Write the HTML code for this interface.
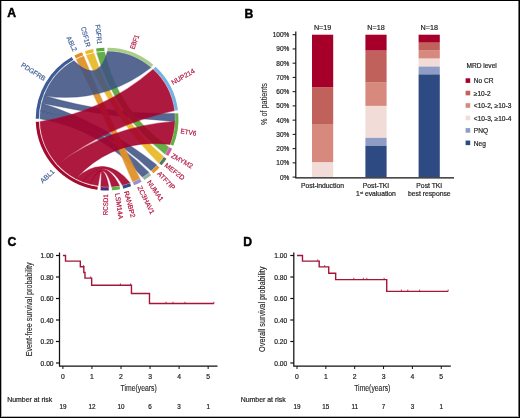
<!DOCTYPE html>
<html><head><meta charset="utf-8"><style>
html,body{margin:0;padding:0;background:#fff;}
body{width:520px;height:418px;overflow:hidden;}
svg{display:block;font-family:"Liberation Sans", sans-serif;will-change:transform;}
.frame{position:absolute;left:0;top:0;width:520px;height:418px;box-sizing:border-box;border:1px solid #000;}
.frame2{position:absolute;left:1px;top:1px;width:518px;height:416px;box-sizing:border-box;border-style:solid;border-width:0 1px 1px 1px;border-color:transparent rgba(0,0,0,.55) rgba(0,0,0,.3) rgba(0,0,0,.3);}
</style></head><body>
<svg width="520" height="418" viewBox="0 0 520 418">
<path d="M40.05,118.73 A67.05,67.05 0 0 1 40.55,110.95 Q103.37,125.88 148.81,172.43 A67.70,67.70 0 0 1 142.33,176.91 Q101.48,129.25 40.05,118.73 Z" fill="#3f5383" stroke="#3f5383" stroke-width="1.2" fill-opacity="0.88" stroke-opacity="0.44"/>
<path d="M40.55,110.95 A67.05,67.05 0 0 1 41.94,103.28 Q104.78,123.63 156.77,165.10 A67.70,67.70 0 0 1 151.09,170.56 Q103.72,125.60 40.55,110.95 Z" fill="#3f5383" stroke="#3f5383" stroke-width="1.2" fill-opacity="0.88" stroke-opacity="0.44"/>
<path d="M41.94,103.28 A67.05,67.05 0 0 1 44.22,95.82 Q107.79,114.78 174.57,113.56 A67.70,67.70 0 0 1 174.76,121.43 Q107.48,117.08 41.94,103.28 Z" fill="#3f5383" stroke="#3f5383" stroke-width="1.2" fill-opacity="0.88" stroke-opacity="0.44"/>
<path d="M76.47,59.46 A67.05,67.05 0 0 1 83.60,56.30 Q108.48,118.57 139.78,178.39 A67.70,67.70 0 0 1 132.67,181.78 Q106.34,119.56 76.47,59.46 Z" fill="#e0912a" stroke="#e0912a" stroke-width="1.2" fill-opacity="0.95" stroke-opacity="0.475"/>
<path d="M86.36,55.34 A67.05,67.05 0 0 1 93.90,53.36 Q113.58,114.86 163.46,156.60 A67.70,67.70 0 0 1 158.73,162.89 Q111.73,116.10 86.36,55.34 Z" fill="#e9b92c" stroke="#e9b92c" stroke-width="1.2" fill-opacity="0.95" stroke-opacity="0.475"/>
<path d="M96.78,52.85 A67.05,67.05 0 0 1 104.54,52.10 Q118.13,111.83 168.72,147.14 A67.70,67.70 0 0 1 165.05,154.11 Q114.72,114.10 96.78,52.85 Z" fill="#5da93e" stroke="#5da93e" stroke-width="1.2" fill-opacity="0.95" stroke-opacity="0.475"/>
<path d="M44.22,95.82 A67.05,67.05 0 0 1 73.89,60.85 Q98.15,84.78 107.45,51.40 A67.70,67.70 0 0 1 150.89,67.47 Q103.28,104.12 44.22,95.82 Z" fill="#3f5383" stroke="#3f5383" stroke-width="1.2" fill-opacity="0.88" stroke-opacity="0.44"/>
<path d="M97.99,185.53 A67.05,67.05 0 0 1 90.34,184.02 Q102.85,156.31 108.71,186.78 A67.70,67.70 0 0 1 100.84,186.51 Q102.76,156.93 97.99,185.53 Z" fill="#a5002b" stroke="#a5002b" stroke-width="1.2" fill-opacity="0.9" stroke-opacity="0.45"/>
<path d="M90.34,184.02 A67.05,67.05 0 0 1 82.92,181.64 Q103.88,154.31 119.47,185.66 A67.70,67.70 0 0 1 111.66,186.65 Q103.68,156.22 90.34,184.02 Z" fill="#a5002b" stroke="#a5002b" stroke-width="1.2" fill-opacity="0.9" stroke-opacity="0.45"/>
<path d="M82.92,181.64 A67.05,67.05 0 0 1 75.82,178.41 Q104.80,152.58 129.91,182.84 A67.70,67.70 0 0 1 122.36,185.06 Q104.66,154.20 82.92,181.64 Z" fill="#a5002b" stroke="#a5002b" stroke-width="1.2" fill-opacity="0.9" stroke-opacity="0.45"/>
<path d="M75.82,178.41 A67.05,67.05 0 0 1 57.42,164.13 Q109.80,126.20 174.76,121.43 A67.70,67.70 0 0 1 169.88,144.43 Q113.92,137.41 75.82,178.41 Z" fill="#a5002b" stroke="#a5002b" stroke-width="1.2" fill-opacity="0.9" stroke-opacity="0.45"/>
<path d="M57.42,164.13 A67.05,67.05 0 0 1 40.10,121.66 Q103.95,112.03 153.10,69.43 A67.70,67.70 0 0 1 174.27,110.62 Q109.72,124.58 57.42,164.13 Z" fill="#a5002b" stroke="#a5002b" stroke-width="1.2" fill-opacity="0.9" stroke-opacity="0.45"/>
<path d="M107.47,47.70 A71.40,71.40 0 0 1 153.28,64.65 L151.21,67.09 A68.20,68.20 0 0 0 107.46,50.90 Z" fill="#a8cd84"/>
<path d="M155.61,66.71 A71.40,71.40 0 0 1 177.94,110.16 L174.76,110.56 A68.20,68.20 0 0 0 153.44,69.06 Z" fill="#76b1e3"/>
<path d="M178.26,113.25 A71.40,71.40 0 0 1 173.31,145.81 L170.35,144.62 A68.20,68.20 0 0 0 175.07,113.52 Z" fill="#66ad45"/>
<path d="M172.09,148.68 A71.40,71.40 0 0 1 168.21,156.02 L165.47,154.37 A68.20,68.20 0 0 0 169.17,147.35 Z" fill="#d95aa7"/>
<path d="M166.54,158.65 A71.40,71.40 0 0 1 161.55,165.29 L159.11,163.22 A68.20,68.20 0 0 0 163.88,156.88 Z" fill="#4f7a66"/>
<path d="M159.48,167.62 A71.40,71.40 0 0 1 153.50,173.37 L151.42,170.94 A68.20,68.20 0 0 0 157.14,165.44 Z" fill="#e6931f"/>
<path d="M151.08,175.34 A71.40,71.40 0 0 1 144.26,180.07 L142.59,177.34 A68.20,68.20 0 0 0 149.11,172.82 Z" fill="#94b39a"/>
<path d="M141.56,181.63 A71.40,71.40 0 0 1 134.07,185.21 L132.86,182.25 A68.20,68.20 0 0 0 140.02,178.83 Z" fill="#9a8fd6"/>
<path d="M131.16,186.32 A71.40,71.40 0 0 1 123.19,188.66 L122.47,185.55 A68.20,68.20 0 0 0 130.08,183.31 Z" fill="#2c4f8f"/>
<path d="M120.14,189.30 A71.40,71.40 0 0 1 111.91,190.34 L111.69,187.15 A68.20,68.20 0 0 0 119.56,186.15 Z" fill="#5fb446"/>
<path d="M108.79,190.48 A71.40,71.40 0 0 1 100.49,190.19 L100.79,187.01 A68.20,68.20 0 0 0 108.72,187.28 Z" fill="#4a2c72"/>
<path d="M97.40,189.84 A71.40,71.40 0 0 1 35.75,121.83 L38.95,121.70 A68.20,68.20 0 0 0 97.83,186.67 Z" fill="#a50b2f"/>
<path d="M35.70,118.71 A71.40,71.40 0 0 1 71.74,57.07 L73.33,59.85 A68.20,68.20 0 0 0 38.90,118.73 Z" fill="#3d5b94"/>
<path d="M74.48,55.59 A71.40,71.40 0 0 1 82.07,52.23 L83.20,55.23 A68.20,68.20 0 0 0 75.94,58.43 Z" fill="#e28e22"/>
<path d="M85.01,51.20 A71.40,71.40 0 0 1 93.05,49.10 L93.68,52.23 A68.20,68.20 0 0 0 86.00,54.24 Z" fill="#edb825"/>
<path d="M96.11,48.55 A71.40,71.40 0 0 1 104.38,47.75 L104.50,50.95 A68.20,68.20 0 0 0 96.61,51.71 Z" fill="#5ea83a"/>
<text x="131.94" y="48.97" transform="rotate(-70.50 131.94 48.97)" text-anchor="start" dominant-baseline="central" fill="#b0123c" stroke="#b0123c" stroke-width="0.18" font-size="6.8" textLength="14.90" lengthAdjust="spacingAndGlyphs">EBF1</text>
<text x="171.72" y="82.84" transform="rotate(-29.30 171.72 82.84)" text-anchor="start" dominant-baseline="central" fill="#b0123c" stroke="#b0123c" stroke-width="0.18" font-size="6.8" textLength="25.70" lengthAdjust="spacingAndGlyphs">NUP214</text>
<text x="180.68" y="130.75" transform="rotate(9.00 180.68 130.75)" text-anchor="start" dominant-baseline="central" fill="#b0123c" stroke="#b0123c" stroke-width="0.18" font-size="6.8" textLength="15.80" lengthAdjust="spacingAndGlyphs">ETV6</text>
<text x="171.65" y="154.88" transform="rotate(29.00 171.65 154.88)" text-anchor="start" dominant-baseline="central" fill="#b0123c" stroke="#b0123c" stroke-width="0.18" font-size="6.8">ZMYM2</text>
<text x="165.65" y="164.35" transform="rotate(37.70 165.65 164.35)" text-anchor="start" dominant-baseline="central" fill="#b0123c" stroke="#b0123c" stroke-width="0.18" font-size="6.8">MEF2D</text>
<text x="158.50" y="172.33" transform="rotate(46.00 158.50 172.33)" text-anchor="start" dominant-baseline="central" fill="#b0123c" stroke="#b0123c" stroke-width="0.18" font-size="6.8">ATF7IP</text>
<text x="148.87" y="180.79" transform="rotate(55.90 148.87 180.79)" text-anchor="start" dominant-baseline="central" fill="#b0123c" stroke="#b0123c" stroke-width="0.18" font-size="6.8">NUMA1</text>
<text x="139.52" y="186.17" transform="rotate(64.20 139.52 186.17)" text-anchor="start" dominant-baseline="central" fill="#b0123c" stroke="#b0123c" stroke-width="0.18" font-size="6.8" textLength="30.50" lengthAdjust="spacingAndGlyphs">ZC3HAV1</text>
<text x="126.38" y="191.06" transform="rotate(75.00 126.38 191.06)" text-anchor="start" dominant-baseline="central" fill="#b0123c" stroke="#b0123c" stroke-width="0.18" font-size="6.8">RANBP2</text>
<text x="117.52" y="193.27" transform="rotate(82.00 117.52 193.27)" text-anchor="start" dominant-baseline="central" fill="#b0123c" stroke="#b0123c" stroke-width="0.18" font-size="6.8" textLength="26.00" lengthAdjust="spacingAndGlyphs">LSM14A</text>
<text x="105.66" y="194.29" transform="rotate(271.10 105.66 194.29)" text-anchor="end" dominant-baseline="central" fill="#b0123c" stroke="#b0123c" stroke-width="0.18" font-size="6.8" textLength="20.80" lengthAdjust="spacingAndGlyphs">RCSD1</text>
<text x="53.20" y="170.24" transform="rotate(316.50 53.20 170.24)" text-anchor="end" dominant-baseline="central" fill="#3f5e96" stroke="#3f5e96" stroke-width="0.18" font-size="6.8">ABL1</text>
<text x="44.98" y="79.07" transform="rotate(392.80 44.98 79.07)" text-anchor="end" dominant-baseline="central" fill="#3f5e96" stroke="#3f5e96" stroke-width="0.18" font-size="6.8" textLength="27.50" lengthAdjust="spacingAndGlyphs">PDGFRB</text>
<text x="75.40" y="51.13" transform="rotate(425.00 75.40 51.13)" text-anchor="end" dominant-baseline="central" fill="#3f5e96" stroke="#3f5e96" stroke-width="0.18" font-size="6.8" textLength="16.00" lengthAdjust="spacingAndGlyphs">ABL2</text>
<text x="88.52" y="46.75" transform="rotate(435.60 88.52 46.75)" text-anchor="end" dominant-baseline="central" fill="#3f5e96" stroke="#3f5e96" stroke-width="0.18" font-size="6.8" textLength="20.60" lengthAdjust="spacingAndGlyphs">CSF1R</text>
<text x="99.75" y="44.16" transform="rotate(444.40 99.75 44.16)" text-anchor="end" dominant-baseline="central" fill="#3f5e96" stroke="#3f5e96" stroke-width="0.18" font-size="6.8" textLength="19.70" lengthAdjust="spacingAndGlyphs">FGFR1</text>
<rect x="312.00" y="162.11" width="21.20" height="14.99" fill="#f1dcd7"/>
<rect x="312.00" y="124.64" width="21.20" height="37.47" fill="#d6897c"/>
<rect x="312.00" y="87.16" width="21.20" height="37.47" fill="#c0615b"/>
<rect x="312.00" y="34.70" width="21.20" height="52.46" fill="#a6002a"/>
<text stroke="#1e1e1e" stroke-width="0.2" x="322.60" y="29.9" text-anchor="middle" font-size="7.2" fill="#1e1e1e">N=19</text>
<rect x="365.40" y="145.46" width="21.20" height="31.64" fill="#2e4a82"/>
<rect x="365.40" y="137.54" width="21.20" height="7.91" fill="#8f9cc6"/>
<rect x="365.40" y="105.90" width="21.20" height="31.64" fill="#f1dcd7"/>
<rect x="365.40" y="82.17" width="21.20" height="23.73" fill="#d6897c"/>
<rect x="365.40" y="50.52" width="21.20" height="31.64" fill="#c0615b"/>
<rect x="365.40" y="34.70" width="21.20" height="15.82" fill="#a6002a"/>
<text stroke="#1e1e1e" stroke-width="0.2" x="376.00" y="29.9" text-anchor="middle" font-size="7.2" fill="#1e1e1e">N=18</text>
<rect x="418.60" y="74.26" width="21.20" height="102.84" fill="#2e4a82"/>
<rect x="418.60" y="66.34" width="21.20" height="7.91" fill="#8f9cc6"/>
<rect x="418.60" y="58.43" width="21.20" height="7.91" fill="#f1dcd7"/>
<rect x="418.60" y="50.52" width="21.20" height="7.91" fill="#d6897c"/>
<rect x="418.60" y="42.61" width="21.20" height="7.91" fill="#c0615b"/>
<rect x="418.60" y="34.70" width="21.20" height="7.91" fill="#a6002a"/>
<text stroke="#1e1e1e" stroke-width="0.2" x="429.20" y="29.9" text-anchor="middle" font-size="7.2" fill="#1e1e1e">N=18</text>
<path d="M295.8,31.6 V177.9 H454" stroke="#111" stroke-width="1.2" fill="none"/>
<path d="M292.6,177.10 H295.8" stroke="#111" stroke-width="1"/>
<text stroke="#1e1e1e" stroke-width="0.2" x="289.3" y="177.10" text-anchor="end" font-size="6.5" fill="#1e1e1e" dominant-baseline="central">0%</text>
<path d="M292.6,162.86 H295.8" stroke="#111" stroke-width="1"/>
<text stroke="#1e1e1e" stroke-width="0.2" x="289.3" y="162.86" text-anchor="end" font-size="6.5" fill="#1e1e1e" dominant-baseline="central">10%</text>
<path d="M292.6,148.62 H295.8" stroke="#111" stroke-width="1"/>
<text stroke="#1e1e1e" stroke-width="0.2" x="289.3" y="148.62" text-anchor="end" font-size="6.5" fill="#1e1e1e" dominant-baseline="central">20%</text>
<path d="M292.6,134.38 H295.8" stroke="#111" stroke-width="1"/>
<text stroke="#1e1e1e" stroke-width="0.2" x="289.3" y="134.38" text-anchor="end" font-size="6.5" fill="#1e1e1e" dominant-baseline="central">30%</text>
<path d="M292.6,120.14 H295.8" stroke="#111" stroke-width="1"/>
<text stroke="#1e1e1e" stroke-width="0.2" x="289.3" y="120.14" text-anchor="end" font-size="6.5" fill="#1e1e1e" dominant-baseline="central">40%</text>
<path d="M292.6,105.90 H295.8" stroke="#111" stroke-width="1"/>
<text stroke="#1e1e1e" stroke-width="0.2" x="289.3" y="105.90" text-anchor="end" font-size="6.5" fill="#1e1e1e" dominant-baseline="central">50%</text>
<path d="M292.6,91.66 H295.8" stroke="#111" stroke-width="1"/>
<text stroke="#1e1e1e" stroke-width="0.2" x="289.3" y="91.66" text-anchor="end" font-size="6.5" fill="#1e1e1e" dominant-baseline="central">60%</text>
<path d="M292.6,77.42 H295.8" stroke="#111" stroke-width="1"/>
<text stroke="#1e1e1e" stroke-width="0.2" x="289.3" y="77.42" text-anchor="end" font-size="6.5" fill="#1e1e1e" dominant-baseline="central">70%</text>
<path d="M292.6,63.18 H295.8" stroke="#111" stroke-width="1"/>
<text stroke="#1e1e1e" stroke-width="0.2" x="289.3" y="63.18" text-anchor="end" font-size="6.5" fill="#1e1e1e" dominant-baseline="central">80%</text>
<path d="M292.6,48.94 H295.8" stroke="#111" stroke-width="1"/>
<text stroke="#1e1e1e" stroke-width="0.2" x="289.3" y="48.94" text-anchor="end" font-size="6.5" fill="#1e1e1e" dominant-baseline="central">90%</text>
<path d="M292.6,34.70 H295.8" stroke="#111" stroke-width="1"/>
<text stroke="#1e1e1e" stroke-width="0.2" x="289.3" y="34.70" text-anchor="end" font-size="6.5" fill="#1e1e1e" dominant-baseline="central">100%</text>
<text transform="translate(266.6 104) rotate(-90)" text-anchor="middle" font-size="8.5" textLength="42" lengthAdjust="spacingAndGlyphs" stroke="#1e1e1e" stroke-width="0.08" fill="#1e1e1e">% of patients</text>
<text stroke="#1e1e1e" stroke-width="0.2" x="322.45" y="187.7" text-anchor="middle" font-size="6.8" fill="#1e1e1e">Post-induction</text>
<text stroke="#1e1e1e" stroke-width="0.2" x="376" y="187.7" text-anchor="middle" font-size="6.8" fill="#1e1e1e">Post-TKI</text>
<text stroke="#1e1e1e" stroke-width="0.2" x="376" y="195.8" text-anchor="middle" font-size="6.8" fill="#1e1e1e">1<tspan font-size="4" dy="-2.2">st</tspan><tspan dy="2.2"> evaluation</tspan></text>
<text stroke="#1e1e1e" stroke-width="0.2" x="429.3" y="187.7" text-anchor="middle" font-size="6.8" fill="#1e1e1e">Post TKI</text>
<text stroke="#1e1e1e" stroke-width="0.2" x="429.3" y="195.8" text-anchor="middle" font-size="6.8" fill="#1e1e1e">best response</text>
<text stroke="#1e1e1e" stroke-width="0.2" x="466.4" y="68.3" font-size="6.6" fill="#1e1e1e">MRD level</text>
<rect x="465.6" y="78.30" width="4.6" height="4.6" fill="#a6002a"/>
<text stroke="#1e1e1e" stroke-width="0.2" x="473.8" y="80.90" font-size="6.6" fill="#1e1e1e" dominant-baseline="central">No CR</text>
<rect x="465.6" y="90.75" width="4.6" height="4.6" fill="#c0615b"/>
<text stroke="#1e1e1e" stroke-width="0.2" x="473.8" y="93.35" font-size="6.6" fill="#1e1e1e" dominant-baseline="central">≥10-2</text>
<rect x="465.6" y="103.20" width="4.6" height="4.6" fill="#d6897c"/>
<text stroke="#1e1e1e" stroke-width="0.2" x="473.8" y="105.80" font-size="6.6" fill="#1e1e1e" dominant-baseline="central">&lt;10-2, ≥10-3</text>
<rect x="465.6" y="115.65" width="4.6" height="4.6" fill="#f1dcd7"/>
<text stroke="#1e1e1e" stroke-width="0.2" x="473.8" y="118.25" font-size="6.6" fill="#1e1e1e" dominant-baseline="central">&lt;10-3, ≥10-4</text>
<rect x="465.6" y="128.10" width="4.6" height="4.6" fill="#8f9cc6"/>
<text stroke="#1e1e1e" stroke-width="0.2" x="473.8" y="130.70" font-size="6.6" fill="#1e1e1e" dominant-baseline="central">PNQ</text>
<rect x="465.6" y="140.55" width="4.6" height="4.6" fill="#2e4a82"/>
<text stroke="#1e1e1e" stroke-width="0.2" x="473.8" y="143.15" font-size="6.6" fill="#1e1e1e" dominant-baseline="central">Neg</text>
<path d="M59.50,252.4 V366 H217.50" stroke="#111" stroke-width="1.25" fill="none"/>
<path d="M56.00,363.00 H59.50" stroke="#111" stroke-width="1.2"/>
<text stroke="#1e1e1e" stroke-width="0.2" x="53.60" y="363.00" text-anchor="end" font-size="6.7" fill="#1e1e1e" dominant-baseline="central">0.00</text>
<path d="M56.00,341.50 H59.50" stroke="#111" stroke-width="1.2"/>
<text stroke="#1e1e1e" stroke-width="0.2" x="53.60" y="341.50" text-anchor="end" font-size="6.7" fill="#1e1e1e" dominant-baseline="central">0.20</text>
<path d="M56.00,320.00 H59.50" stroke="#111" stroke-width="1.2"/>
<text stroke="#1e1e1e" stroke-width="0.2" x="53.60" y="320.00" text-anchor="end" font-size="6.7" fill="#1e1e1e" dominant-baseline="central">0.40</text>
<path d="M56.00,298.50 H59.50" stroke="#111" stroke-width="1.2"/>
<text stroke="#1e1e1e" stroke-width="0.2" x="53.60" y="298.50" text-anchor="end" font-size="6.7" fill="#1e1e1e" dominant-baseline="central">0.60</text>
<path d="M56.00,277.00 H59.50" stroke="#111" stroke-width="1.2"/>
<text stroke="#1e1e1e" stroke-width="0.2" x="53.60" y="277.00" text-anchor="end" font-size="6.7" fill="#1e1e1e" dominant-baseline="central">0.80</text>
<path d="M56.00,255.50 H59.50" stroke="#111" stroke-width="1.2"/>
<text stroke="#1e1e1e" stroke-width="0.2" x="53.60" y="255.50" text-anchor="end" font-size="6.7" fill="#1e1e1e" dominant-baseline="central">1.00</text>
<path d="M62.90,366 V369" stroke="#111" stroke-width="1"/>
<text stroke="#1e1e1e" stroke-width="0.2" x="62.90" y="378.7" text-anchor="middle" font-size="6.8" fill="#1e1e1e">0</text>
<text stroke="#1e1e1e" stroke-width="0.2" x="62.90" y="408.8" text-anchor="middle" font-size="6.3" fill="#1e1e1e">19</text>
<path d="M91.95,366 V369" stroke="#111" stroke-width="1"/>
<text stroke="#1e1e1e" stroke-width="0.2" x="91.95" y="378.7" text-anchor="middle" font-size="6.8" fill="#1e1e1e">1</text>
<text stroke="#1e1e1e" stroke-width="0.2" x="91.95" y="408.8" text-anchor="middle" font-size="6.3" fill="#1e1e1e">12</text>
<path d="M121.00,366 V369" stroke="#111" stroke-width="1"/>
<text stroke="#1e1e1e" stroke-width="0.2" x="121.00" y="378.7" text-anchor="middle" font-size="6.8" fill="#1e1e1e">2</text>
<text stroke="#1e1e1e" stroke-width="0.2" x="121.00" y="408.8" text-anchor="middle" font-size="6.3" fill="#1e1e1e">10</text>
<path d="M150.05,366 V369" stroke="#111" stroke-width="1"/>
<text stroke="#1e1e1e" stroke-width="0.2" x="150.05" y="378.7" text-anchor="middle" font-size="6.8" fill="#1e1e1e">3</text>
<text stroke="#1e1e1e" stroke-width="0.2" x="150.05" y="408.8" text-anchor="middle" font-size="6.3" fill="#1e1e1e">6</text>
<path d="M179.10,366 V369" stroke="#111" stroke-width="1"/>
<text stroke="#1e1e1e" stroke-width="0.2" x="179.10" y="378.7" text-anchor="middle" font-size="6.8" fill="#1e1e1e">4</text>
<text stroke="#1e1e1e" stroke-width="0.2" x="179.10" y="408.8" text-anchor="middle" font-size="6.3" fill="#1e1e1e">3</text>
<path d="M208.15,366 V369" stroke="#111" stroke-width="1"/>
<text stroke="#1e1e1e" stroke-width="0.2" x="208.15" y="378.7" text-anchor="middle" font-size="6.8" fill="#1e1e1e">5</text>
<text stroke="#1e1e1e" stroke-width="0.2" x="208.15" y="408.8" text-anchor="middle" font-size="6.3" fill="#1e1e1e">1</text>
<path d="M62.90,255.50 H65.51 V261.16 H80.33 V266.82 H83.82 V272.47 H84.98 V278.13 H91.66 V285.20 H131.46 V293.56 H149.47 V303.55 H213.96" stroke="#a4153a" stroke-width="1.4" fill="none"/>
<path d="M83.61,266.82 V265.02" stroke="#a6173a" stroke-width="0.8"/>
<path d="M90.70,278.13 V276.33" stroke="#a6173a" stroke-width="0.8"/>
<path d="M120.42,285.20 V283.40" stroke="#a6173a" stroke-width="0.8"/>
<path d="M130.59,285.20 V283.40" stroke="#a6173a" stroke-width="0.8"/>
<path d="M166.03,303.55 V301.75" stroke="#a6173a" stroke-width="0.8"/>
<path d="M173.00,303.55 V301.75" stroke="#a6173a" stroke-width="0.8"/>
<path d="M184.91,303.55 V301.75" stroke="#a6173a" stroke-width="0.8"/>
<path d="M213.96,303.55 V301.75" stroke="#a6173a" stroke-width="0.8"/>
<text x="138.70" y="390.7" text-anchor="middle" font-size="8.5" textLength="36.2" lengthAdjust="spacingAndGlyphs" stroke="#1e1e1e" stroke-width="0.12" fill="#1e1e1e">Time(years)</text>
<path d="M293.80,252.4 V366 H450.80" stroke="#111" stroke-width="1.25" fill="none"/>
<path d="M290.30,363.00 H293.80" stroke="#111" stroke-width="1.2"/>
<text stroke="#1e1e1e" stroke-width="0.2" x="287.30" y="363.00" text-anchor="end" font-size="6.7" fill="#1e1e1e" dominant-baseline="central">0.00</text>
<path d="M290.30,341.50 H293.80" stroke="#111" stroke-width="1.2"/>
<text stroke="#1e1e1e" stroke-width="0.2" x="287.30" y="341.50" text-anchor="end" font-size="6.7" fill="#1e1e1e" dominant-baseline="central">0.20</text>
<path d="M290.30,320.00 H293.80" stroke="#111" stroke-width="1.2"/>
<text stroke="#1e1e1e" stroke-width="0.2" x="287.30" y="320.00" text-anchor="end" font-size="6.7" fill="#1e1e1e" dominant-baseline="central">0.40</text>
<path d="M290.30,298.50 H293.80" stroke="#111" stroke-width="1.2"/>
<text stroke="#1e1e1e" stroke-width="0.2" x="287.30" y="298.50" text-anchor="end" font-size="6.7" fill="#1e1e1e" dominant-baseline="central">0.60</text>
<path d="M290.30,277.00 H293.80" stroke="#111" stroke-width="1.2"/>
<text stroke="#1e1e1e" stroke-width="0.2" x="287.30" y="277.00" text-anchor="end" font-size="6.7" fill="#1e1e1e" dominant-baseline="central">0.80</text>
<path d="M290.30,255.50 H293.80" stroke="#111" stroke-width="1.2"/>
<text stroke="#1e1e1e" stroke-width="0.2" x="287.30" y="255.50" text-anchor="end" font-size="6.7" fill="#1e1e1e" dominant-baseline="central">1.00</text>
<path d="M297.00,366 V369" stroke="#111" stroke-width="1"/>
<text stroke="#1e1e1e" stroke-width="0.2" x="297.00" y="378.7" text-anchor="middle" font-size="6.8" fill="#1e1e1e">0</text>
<text stroke="#1e1e1e" stroke-width="0.2" x="297.00" y="408.8" text-anchor="middle" font-size="6.3" fill="#1e1e1e">19</text>
<path d="M325.85,366 V369" stroke="#111" stroke-width="1"/>
<text stroke="#1e1e1e" stroke-width="0.2" x="325.85" y="378.7" text-anchor="middle" font-size="6.8" fill="#1e1e1e">1</text>
<text stroke="#1e1e1e" stroke-width="0.2" x="325.85" y="408.8" text-anchor="middle" font-size="6.3" fill="#1e1e1e">15</text>
<path d="M354.70,366 V369" stroke="#111" stroke-width="1"/>
<text stroke="#1e1e1e" stroke-width="0.2" x="354.70" y="378.7" text-anchor="middle" font-size="6.8" fill="#1e1e1e">2</text>
<text stroke="#1e1e1e" stroke-width="0.2" x="354.70" y="408.8" text-anchor="middle" font-size="6.3" fill="#1e1e1e">11</text>
<path d="M383.55,366 V369" stroke="#111" stroke-width="1"/>
<text stroke="#1e1e1e" stroke-width="0.2" x="383.55" y="378.7" text-anchor="middle" font-size="6.8" fill="#1e1e1e">3</text>
<text stroke="#1e1e1e" stroke-width="0.2" x="383.55" y="408.8" text-anchor="middle" font-size="6.3" fill="#1e1e1e">7</text>
<path d="M412.40,366 V369" stroke="#111" stroke-width="1"/>
<text stroke="#1e1e1e" stroke-width="0.2" x="412.40" y="378.7" text-anchor="middle" font-size="6.8" fill="#1e1e1e">4</text>
<text stroke="#1e1e1e" stroke-width="0.2" x="412.40" y="408.8" text-anchor="middle" font-size="6.3" fill="#1e1e1e">3</text>
<path d="M441.25,366 V369" stroke="#111" stroke-width="1"/>
<text stroke="#1e1e1e" stroke-width="0.2" x="441.25" y="378.7" text-anchor="middle" font-size="6.8" fill="#1e1e1e">5</text>
<text stroke="#1e1e1e" stroke-width="0.2" x="441.25" y="408.8" text-anchor="middle" font-size="6.3" fill="#1e1e1e">1</text>
<path d="M297.00,255.50 H302.48 V261.16 H319.21 V266.89 H328.74 V273.24 H335.66 V279.58 H386.72 V291.40 H448.17" stroke="#a4153a" stroke-width="1.4" fill="none"/>
<path d="M317.77,261.16 V259.36" stroke="#a6173a" stroke-width="0.8"/>
<path d="M324.70,266.89 V265.09" stroke="#a6173a" stroke-width="0.8"/>
<path d="M353.83,279.58 V277.78" stroke="#a6173a" stroke-width="0.8"/>
<path d="M363.36,279.58 V277.78" stroke="#a6173a" stroke-width="0.8"/>
<path d="M366.82,279.58 V277.78" stroke="#a6173a" stroke-width="0.8"/>
<path d="M384.13,279.58 V277.78" stroke="#a6173a" stroke-width="0.8"/>
<path d="M401.44,291.40 V289.60" stroke="#a6173a" stroke-width="0.8"/>
<path d="M407.78,291.40 V289.60" stroke="#a6173a" stroke-width="0.8"/>
<path d="M419.61,291.40 V289.60" stroke="#a6173a" stroke-width="0.8"/>
<path d="M448.17,291.40 V289.60" stroke="#a6173a" stroke-width="0.8"/>
<text x="372.30" y="390.7" text-anchor="middle" font-size="8.5" textLength="36.2" lengthAdjust="spacingAndGlyphs" stroke="#1e1e1e" stroke-width="0.12" fill="#1e1e1e">Time(years)</text>
<text transform="translate(31.6 309.3) rotate(-90)" text-anchor="middle" font-size="8.5" textLength="94" lengthAdjust="spacingAndGlyphs" stroke="#1e1e1e" stroke-width="0.12" fill="#1e1e1e">Event-free survival probability</text>
<text transform="translate(265.3 309.3) rotate(-90)" text-anchor="middle" font-size="8.5" textLength="85.3" lengthAdjust="spacingAndGlyphs" stroke="#1e1e1e" stroke-width="0.12" fill="#1e1e1e">Overall survival probability</text>
<text stroke="#1e1e1e" stroke-width="0.2" x="7.3" y="401.9" font-size="6.9" fill="#1e1e1e">Number at risk</text>
<text stroke="#1e1e1e" stroke-width="0.2" x="240.8" y="401.9" font-size="6.9" fill="#1e1e1e">Number at risk</text>
<text x="7.30" y="17.40" font-size="12.2" font-weight="bold" fill="#000" stroke="#000" stroke-width="0.45">A</text>
<text x="244.50" y="17.50" font-size="12.2" font-weight="bold" fill="#000" stroke="#000" stroke-width="0.45">B</text>
<text x="7.60" y="245.60" font-size="12.2" font-weight="bold" fill="#000" stroke="#000" stroke-width="0.45">C</text>
<text x="243.30" y="245.60" font-size="12.2" font-weight="bold" fill="#000" stroke="#000" stroke-width="0.45">D</text>
</svg>
<div class="frame"></div><div class="frame2"></div>
</body></html>
